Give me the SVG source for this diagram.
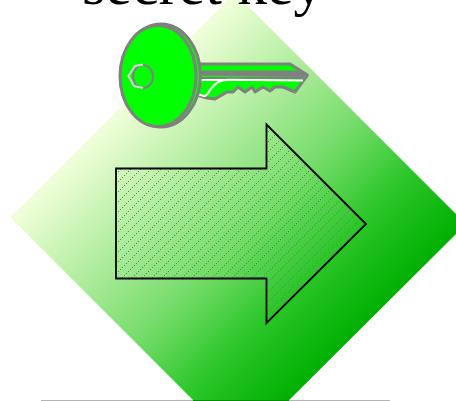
<svg xmlns="http://www.w3.org/2000/svg" width="456" height="401" viewBox="0 0 456 401">
<defs>
<linearGradient id="g" gradientUnits="userSpaceOnUse" x1="114" y1="114" x2="344.500" y2="344.500">
<stop offset="0" stop-color="#f2ffda"/><stop offset=".54" stop-color="#76dc6a"/><stop offset=".77" stop-color="#2cc62a"/><stop offset="1" stop-color="#00b000"/>
</linearGradient>
<pattern id="h" patternUnits="userSpaceOnUse" width="10" height="10">
<path d="M0 10L10 0" stroke="#4f8f4f" stroke-width="1" stroke-dasharray="1.414 1.414" fill="none"/>
</pattern>
<clipPath id="c"><rect x="0" y="0" width="456" height="400"/></clipPath>
</defs>
<style>
.k{stroke:#808080;stroke-width:3;fill:#00ff00;stroke-linejoin:round}
.w{stroke:#fff;stroke-width:2;fill:none}
.b{fill:#808080}
</style>
<line x1="41" y1="400.500" x2="390" y2="400.500" stroke="#b4b4b4" stroke-width="1"/>
<g id="diamond"><polygon points="235,-7 466,224 241,448 10.500,217.500" fill="url(#g)" clip-path="url(#c)"/><line x1="193" y1="400.500" x2="289" y2="400.500" stroke="#008f00"/></g>
<g id="arrow"><path d="M116 168.500H266.500V124.500L366 224L266.500 323V278.500H116Z" fill="url(#h)" stroke="#000" stroke-width="1.800"/></g>
<text x="82" y="4" font-family="'Liberation Serif',serif" font-size="60">secret key</text>
<g id="key">
<path class="k" d="M197 64H290L307.500 75L295 92L283 87L275 87L270 91L263 87L255 92L252 87L245 92L238 87L233 92L227 92L215 99L207 98L197 95Z"/>
<path class="b" d="M197 70.500H299L306 75L304 77L197 75.500Z"/>
<path class="b" d="M197 77H304L302 79.500H197Z"/>
<path class="w" d="M303 80.500L228 79.800C216 80 214 86 210 90C208 94 206 96 204 96L197 94L198 80H228"/>
<ellipse class="k" cx="161" cy="75.500" rx="39.500" ry="51.500"/>
<ellipse class="k" cx="158" cy="76" rx="38" ry="50.500"/>
<ellipse cx="143" cy="76.500" rx="10" ry="11.500" fill="none" stroke="#808080" stroke-width="2"/>
<path d="M143 64.500L135 66L128.500 76L134 86L143 88" fill="none" stroke="#cfd6cf" stroke-width="2.200"/>
</g>
</svg>
